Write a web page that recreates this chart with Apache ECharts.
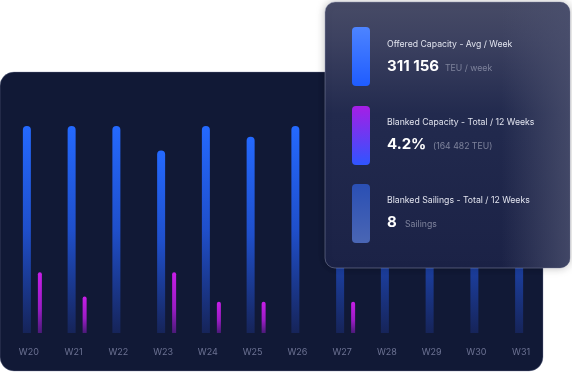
<!DOCTYPE html>
<html>
<head>
<meta charset="utf-8">
<style>
  html, body { margin: 0; padding: 0; background: #ffffff; }
  #chart { width: 572px; height: 372px; }
</style>
<script src="https://cdn.jsdelivr.net/npm/echarts@6/dist/echarts.min.js"></script>
</head>
<body>
<div id="chart"></div>
<script>
// ---- data ----
const weeks = ['W20', 'W21', 'W22', 'W23', 'W24', 'W25', 'W26', 'W27', 'W28', 'W29', 'W30', 'W31'];
const offeredCapacity = [330, 330, 330, 291, 330, 313, 330, 330, 330, 330, 330, 330];
const blankedCapacity = [97, 58, null, 97, 50, 50, null, 50, null, null, null, null];
const kpiTitles = ['Offered Capacity - Avg / Week', 'Blanked Capacity - Total / 12 Weeks', 'Blanked Sailings - Total / 12 Weeks'];
const kpiValues = ['311 156', '4.2%', '8'];
const kpiUnits = ['TEU / week', '(164 482 TEU)', 'Sailings'];

const FONT = 'Inter, "Open Sans", sans-serif';
const chart = echarts.init(document.getElementById('chart'), null, { renderer: 'canvas' });

const lg = (x, y, x2, y2, stops) => new echarts.graphic.LinearGradient(x, y, x2, y2, stops);

const cardX = 325, cardY = 2, cardW = 245, cardH = 266;
const iconX = 352, iconW = 18, iconH = 59;
const iconY = [27, 106, 184];
const iconFills = [
  lg(0, 0, 0, 1, [{ offset: 0, color: '#4d84ff' }, { offset: 1, color: '#1f5cff' }]),
  lg(0, 0, 0, 1, [{ offset: 0, color: '#a61ee6' }, { offset: 1, color: '#2f55ff' }]),
  lg(0, 0, 0, 1, [{ offset: 0, color: '#2a4fb4' }, { offset: 1, color: '#4a66b4' }])
];
const textX = 387;
const titleY = [44, 122, 200];
const valueY = [66, 144, 222];
const unitX = [445, 433, 405];

const graphics = [
  // dark chart panel
  { type: 'rect', z: -10, shape: { x: 0, y: 72, width: 543, height: 299, r: 14 },
    style: { fill: '#111936', stroke: 'rgba(120,128,160,0.35)', lineWidth: 1 } },
  // card body
  { type: 'rect', z: 100, shape: { x: cardX, y: cardY, width: cardW, height: cardH, r: 10 },
    style: { fill: lg(0, 0, 0, 1, [
      { offset: 0, color: '#474b66' }, { offset: 0.15, color: '#3c4160' },
      { offset: 0.42, color: '#222a4e' }, { offset: 1, color: '#1b2246' }]),
      stroke: 'rgba(150,155,185,0.45)', lineWidth: 1,
      shadowBlur: 8, shadowColor: 'rgba(0,0,0,0.25)' } },
  // right-edge glow
  { type: 'rect', z: 101, shape: { x: cardX, y: cardY, width: cardW, height: cardH, r: 10 },
    style: { fill: lg(0, 0, 1, 0, [
      { offset: 0, color: 'rgba(75,80,110,0)' }, { offset: 0.72, color: 'rgba(75,80,110,0)' },
      { offset: 1, color: 'rgba(75,80,110,0.8)' }]) } }
];
for (let i = 0; i < 3; i++) {
  graphics.push({ type: 'rect', z: 102, shape: { x: iconX, y: iconY[i], width: iconW, height: iconH, r: 4 },
    style: { fill: iconFills[i] } });
  graphics.push({ type: 'text', z: 102, x: textX, y: titleY[i],
    style: { text: kpiTitles[i], fill: '#e1e3ee', font: '400 8.7px ' + FONT, textVerticalAlign: 'middle' } });
  graphics.push({ type: 'text', z: 102, x: textX, y: valueY[i],
    style: { text: kpiValues[i], fill: '#ffffff', font: '700 15px ' + FONT, textVerticalAlign: 'middle' } });
  graphics.push({ type: 'text', z: 102, x: unitX[i], y: valueY[i] + 2,
    style: { text: kpiUnits[i], fill: '#7e839c', font: '400 8.7px ' + FONT, textVerticalAlign: 'middle' } });
}

chart.setOption({
  backgroundColor: '#ffffff',
  animation: false,
  grid: { left: 10, right: 25, top: 126, bottom: 39 },
  xAxis: {
    type: 'category',
    data: weeks,
    axisLine: { show: false },
    axisTick: { show: false },
    axisLabel: { color: '#6c7293', fontSize: 9, fontFamily: FONT, margin: 15, padding: [0, 7, 0, 0] }
  },
  yAxis: { type: 'value', min: 0, max: 330, show: false, splitLine: { show: false } },
  series: [
    {
      type: 'bar', data: offeredCapacity, barWidth: 8, barGap: '87.5%',
      itemStyle: {
        borderRadius: [4, 4, 0, 0],
        color: lg(0, 0, 0, 1, [
          { offset: 0, color: '#2469ff' }, { offset: 0.5, color: '#1f4fcb' }, { offset: 1, color: '#162459' }])
      }
    },
    {
      type: 'bar', data: blankedCapacity, barWidth: 4,
      itemStyle: {
        borderRadius: [2, 2, 0, 0],
        color: lg(0, 0, 0, 1, [
          { offset: 0, color: '#c81ee8' }, { offset: 0.6, color: '#9a1cc4' }, { offset: 1, color: '#4c1a7a' }])
      }
    }
  ],
  graphic: { elements: graphics }
});
</script>
</body>
</html>
